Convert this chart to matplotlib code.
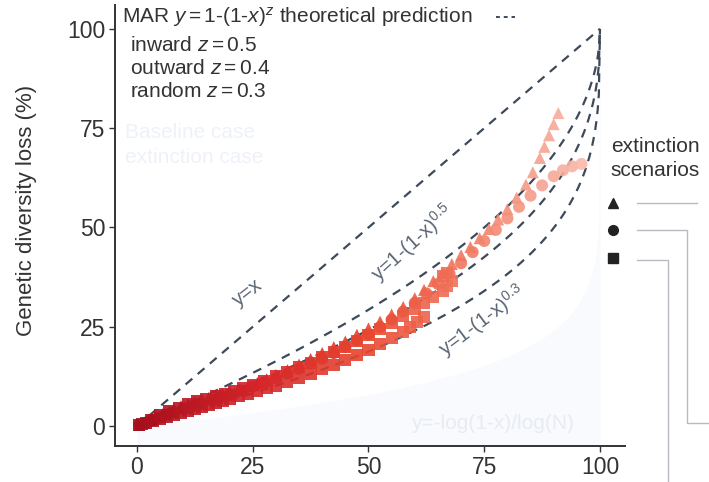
import matplotlib
matplotlib.use("Agg")
import matplotlib.pyplot as plt
import numpy as np
from matplotlib.colors import LinearSegmentedColormap
from matplotlib.lines import Line2D

plt.rcParams["font.family"] = "Liberation Sans"
plt.rcParams["mathtext.fontset"] = "custom"
plt.rcParams["mathtext.rm"] = "Liberation Sans"
plt.rcParams["mathtext.it"] = "Liberation Sans:italic"

# fraction of range lost (%) vs genetic diversity loss (%), one run per list
inward_x = [0.5, 1.5, 3, 4, 5.5, 7, 8, 9.5, 11, 12.5, 14, 15.5, 17, 18.5, 20, 22, 24,
            26, 28, 30, 32.5, 35, 37.5, 40, 42.5, 45, 47.5, 50, 52.5, 55, 57.5, 60,
            62, 64, 66, 68, 70, 72, 74, 76, 78, 80, 82, 84, 85.5, 87, 88, 89, 90, 91]
inward_y = [0.3, 0.8, 1.6, 2.3, 3.0, 3.7, 4.3, 5.0, 5.5, 6.1, 6.5, 7.1, 7.5, 8.1, 8.6,
            9.2, 10.1, 10.9, 11.8, 12.9, 14.1, 15.5, 16.9, 18.4, 19.9, 21.3, 23.0,
            24.6, 26.3, 28.1, 30.0, 32.2, 34.3, 36.5, 38.7, 40.8, 43.0, 45.1, 47.3,
            49.6, 52.0, 54.6, 57.5, 60.8, 63.9, 67.5, 70.3, 73.2, 76.0, 78.8]

outward_x = [0.5, 2, 3.5, 5, 6.5, 8, 10, 12, 14, 16, 18, 20, 22.5, 25, 27.5, 30, 32.5,
             35, 37.5, 40, 42.5, 45, 47.5, 50, 52.5, 55, 57.5, 60, 62.5, 65, 67.5, 70,
             72.5, 75, 77.5, 80, 82.5, 85, 87.5, 90, 92, 94, 96]
outward_y = [0.3, 0.9, 1.6, 2.2, 2.9, 3.5, 4.3, 5.1, 5.8, 6.6, 7.3, 8.0, 9.0, 10.0,
             11.0, 12.0, 13.2, 14.4, 15.7, 17.0, 18.4, 19.9, 21.5, 23.1, 24.9, 26.8,
             28.8, 31.0, 33.4, 35.8, 38.4, 41.0, 43.8, 46.6, 49.4, 52.3, 55.2, 58.0,
             60.6, 62.9, 64.4, 65.4, 66.0]

random_x = [0.5, 2, 3.5, 5, 6.5, 8, 9.5, 11, 12.5, 14, 15.5, 17, 18.5, 20, 22, 24, 26,
            28, 30, 32.5, 35, 37.5, 40, 42.5, 45, 47.5, 50, 52.5, 55, 57.5, 59, 60.5, 62]
random_y = [0.2, 0.7, 1.3, 1.8, 2.4, 2.9, 3.4, 3.9, 4.4, 4.9, 5.4, 5.9, 6.4, 6.9, 7.5,
            8.1, 8.8, 9.5, 10.2, 11.2, 12.2, 13.2, 14.3, 15.4, 16.6, 17.9, 19.2, 20.6,
            22.1, 23.7, 24.9, 26.2, 27.4]

random2_x = [1, 3, 5, 7, 9, 11, 13, 15, 17, 19, 21, 23, 25, 27.5, 30, 32.5, 35, 37.5,
             40, 42.5, 45, 47.5, 50, 52.5, 55, 57.5, 60, 62, 64, 66, 67, 68, 67, 66]
random2_y = [0.6, 1.6, 2.7, 3.7, 4.6, 5.5, 6.2, 6.9, 7.6, 8.2, 8.9, 9.6, 10.4, 11.4,
             12.5, 13.6, 14.8, 16.0, 17.3, 18.6, 20.0, 21.4, 22.9, 24.4, 26.0, 27.6,
             29.4, 31.0, 32.6, 34.1, 35.2, 36.6, 38.5, 37.8]

z_values = [1.0, 0.5, 0.4, 0.3]
xticks = [0, 25, 50, 75, 100]
yticks = [0, 25, 50, 75, 100]

W, H = 709, 482


def px(x, y):
    return x / W, 1 - y / H


fig = plt.figure(figsize=(W / 100, H / 100), dpi=100)
ax = fig.add_axes([115 / W, 1 - 446 / H, 510 / W, 441 / H])

ink = "#333333"
dash_col = "#3e4a5a"
red_map = LinearSegmentedColormap.from_list(
    "loss", ["#a50f1c", "#d42329", "#e8472f", "#f3826a", "#f9c2b6"])

# faint background wash and ghost labels
xs = np.linspace(0, 100, 400)
ax.fill_between(xs, -5, 100 * (1 - (1 - xs / 100) ** 0.12), color="#f8fafd", lw=0, zorder=0)
ax.text(0.02, 0.712, "Baseline case", transform=ax.transAxes, fontsize=15,
        color="#eef2f8", va="center")
ax.text(0.02, 0.655, "extinction case", transform=ax.transAxes, fontsize=15,
        color="#eef2f8", va="center")
ax.text(0.74, 0.05, "y=-log(1-x)/log(N)", transform=ax.transAxes, fontsize=15,
        color="#e8ebf0", ha="center", va="center")

# theoretical MAR curves
for z in z_values:
    ax.plot(xs, 100 * (1 - (1 - xs / 100) ** z), color=dash_col, lw=1.6,
            ls=(0, (4, 3.2)), zorder=2)

runs = [(inward_x, inward_y, "^"), (outward_x, outward_y, "o"),
        (random_x, random_y, "s"), (random2_x, random2_y, "s")]
for rx, ry, mk in runs:
    rx = np.array(rx)
    ax.scatter(rx, ry, c=red_map(rx / 100), marker=mk, s=75, lw=0, alpha=0.9, zorder=3)

lab_col = "#5a6574"
ax.text(24, 33.5, "y=x", rotation=38, fontsize=14.5, color=lab_col, ha="center",
        va="center")
ax.text(59.5, 46, "y=1-(1-x)$^{0.5}$", rotation=42, fontsize=14.5, color=lab_col,
        ha="center", va="center")
ax.text(74.5, 26.5, "y=1-(1-x)$^{0.3}$", rotation=37, fontsize=14.5, color=lab_col,
        ha="center", va="center")

# legend block in the upper left
ax.text(0.014, 0.973, r"MAR $\mathit{y{=}1\text{-}(1\text{-}x)^{z}}$ theoretical prediction",
        transform=ax.transAxes, fontsize=15, color=ink, va="center")
ax.plot([0.748, 0.785], [0.973, 0.973], transform=ax.transAxes, color=dash_col, lw=1.4,
        ls=(0, (2, 2)), clip_on=False)
for yy, name, z in [(0.909, "inward", "0.5"), (0.855, "outward", "0.4"),
                    (0.803, "random", "0.3")]:
    ax.text(0.03, yy, name + r" $\mathit{z{=}" + z + "}$", transform=ax.transAxes,
            fontsize=15, color=ink, va="center")

ax.set_xlim(-4.75, 105.4)
ax.set_ylim(-5, 106)
ax.set_xticks(xticks)
ax.set_yticks(yticks)
ax.tick_params(axis="x", labelsize=16.5, length=4, width=1, colors=ink, pad=3)
ax.tick_params(axis="y", labelsize=16.5, length=4, width=1, colors=ink, pad=3)
for side in ["top", "right"]:
    ax.spines[side].set_visible(False)
for side in ["left", "bottom"]:
    ax.spines[side].set_color(ink)
    ax.spines[side].set_linewidth(1.4)
ax.set_ylabel("Genetic diversity loss (%)", fontsize=16, color=ink)
ax.yaxis.set_label_coords(-0.153, 0.535)

# scenario key on the right with connector lines
fig.text(*px(655, 147), "extinction", fontsize=15, color=ink, ha="center", va="center")
fig.text(*px(655, 170), "scenarios", fontsize=15, color=ink, ha="center", va="center")
for yy, mk in [(203, "^"), (230, "o"), (258, "s")]:
    fig.add_artist(Line2D([px(613, yy)[0]], [px(613, yy)[1]], marker=mk, color="#222222",
                          markersize=7, lw=0, transform=fig.transFigure))
conn = "#b8bcc2"
paths = [[(637, 203), (697, 203)],
         [(637, 230), (687, 230), (687, 423), (709, 423)],
         [(637, 260), (668, 260), (668, 482)]]
for path in paths:
    pts = [px(a, b) for a, b in path]
    fig.add_artist(Line2D([p[0] for p in pts], [p[1] for p in pts], color=conn, lw=1,
                          transform=fig.transFigure))

fig.savefig("out.png", dpi=100)
